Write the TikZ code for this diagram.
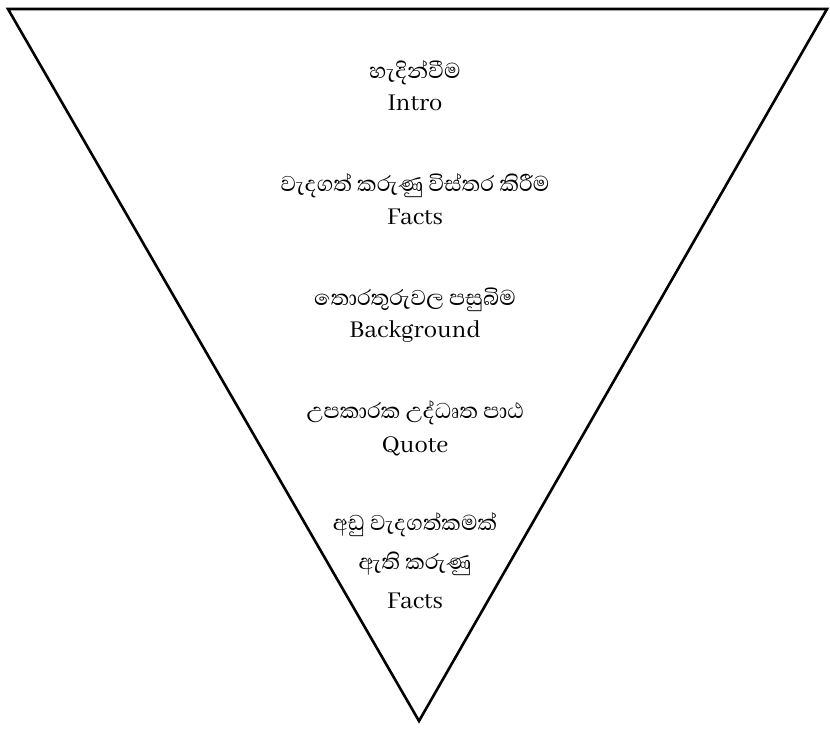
\documentclass[tikz,border=0pt]{standalone}
\usepackage{fontspec}
\setmainfont[Script=Sinhala]{Abhaya Libre}
\begin{document}
\begin{tikzpicture}[x=1pt,y=-1pt,
  si/.style={font=\fontsize{27.5}{32}\selectfont, inner sep=0pt},
  la/.style={font=\fontsize{26.5}{32}\selectfont, inner sep=0pt}]
\useasboundingbox (0,0) rectangle (830,729);
\coordinate (tl) at (8,9);
\coordinate (tr) at (827,9);
\coordinate (ap) at (419,721);
\draw[line width=2.6pt, line join=miter] (tl) -- (tr) -- (ap) -- cycle;
\node[si] (s1) at (415,73) {හැදින්වීම};
\node[la] (l1) at (415,103) {Intro};
\node[si] (s2) at (415,186) {වැදගත් කරුණු විස්තර කිරීම};
\node[la] (l2) at (415,217) {Facts};
\node[si] (s3) at (415,300) {තොරතුරුවල පසුබිම};
\node[la] (l3) at (415,332) {Background};
\node[si] (s4) at (415,413) {උපකාරක උද්ධෘත පාඨ};
\node[la] (l4) at (415,446) {Quote};
\node[si] (s5) at (415,525) {අඩු වැදගත්කමක්};
\node[si] (s6) at (415,564) {ඇති කරුණු};
\node[la] (l5) at (415,601) {Facts};
\end{tikzpicture}
\end{document}
